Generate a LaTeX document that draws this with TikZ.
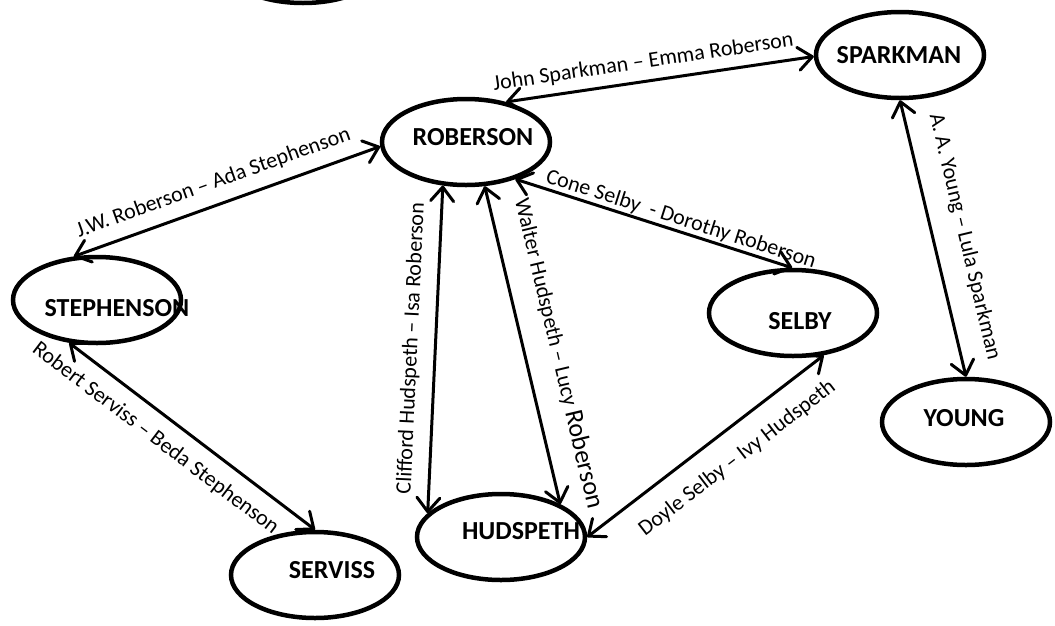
\documentclass[tikz,border=0pt]{standalone}
\usepackage{fontspec}
\setmainfont{Carlito}
\usetikzlibrary{arrows.meta,shapes.geometric}

\tikzset{
  family/.style={draw, ellipse, line width=4.5pt, minimum width=168pt, minimum height=86pt, inner sep=0pt},
  famname/.style={font=\bfseries\fontsize{26}{30}\selectfont, inner sep=0pt},
  marriage/.style={line width=3pt, {Straight Barb[length=14pt,width=23pt,round]}-{Straight Barb[length=14pt,width=23pt,round]}},
  couple/.style={font=\fontsize{22}{26}\selectfont, sloped, inner sep=#1},
  couple/.default=4pt
}

\begin{document}
\begin{tikzpicture}[x=1pt, y=-1pt]
    \useasboundingbox (0,0) rectangle (1055,625);

    % Families
    \node[family] (top) at (303,-40) {};
    \node[family] (rob) at (466,142) {};
    \node[family] (spark) at (900,55) {};
    \node[family] (young) at (966,422) {};
    \node[family] (steph) at (97,300) {};
    \node[family] (serv) at (315,575) {};
    \node[family] (hud) at (501,537) {};
    \node[family] (selby) at (793,313) {};

    % Family names
    \node[famname] (robname) at (473,137) {ROBERSON};
    \node[famname] (sparkname) at (899,55) {SPARKMAN};
    \node[famname] (youngname) at (964,418) {YOUNG};
    \node[famname] (stephname) at (117,308) {STEPHENSON};
    \node[famname] (servname) at (332,570) {SERVISS};
    \node[famname] (hudname) at (521,531) {HUDSPETH};
    \node[famname] (selbyname) at (800,321) {SELBY};

    % Marriages
    \draw[marriage] (rob.45.7) -- (spark.181)
        node[couple=8pt, above, pos=0.455] (c1) {John Sparkman -- Emma Roberson};
    \draw[marriage] (steph.118) -- (rob.183)
        node[couple=11pt, above, pos=0.48] (c2) {J.W. Roberson -- Ada Stephenson};
    \draw[marriage] (steph.237) -- (serv.90)
        node[couple=13pt, below, pos=0.41] (c3) {Robert Serviss -- Beda Stephenson};
    \draw[marriage] (hud.162) -- (rob.242.5)
        node[couple=13pt, above, pos=0.5] (c4) {Clifford Hudspeth -- Isa Roberson};
    \draw[marriage] (rob.293.7) -- (hud.29)
        node[couple=21pt, above, pos=0.55] (c5) {Walter Hudspeth -- Lucy {\fontsize{26}{30}\selectfont Roberson}};
    \draw[marriage] (rob.323.5) -- (selby.91)
        node[couple=1pt, above, pos=0.585] (c6) {Cone Selby\ \ - Dorothy Roberson};
    \draw[marriage] (hud.0) -- (selby.306.5)
        node[couple=18pt, below, pos=0.56] (c7) {Doyle Selby -- Ivy Hudspeth};
    \draw[marriage] (spark.270) -- (young.90)
        node[couple=20pt, above, pos=0.52] (c8) {A. A. Young -- Lula Sparkman};
\end{tikzpicture}
\end{document}
